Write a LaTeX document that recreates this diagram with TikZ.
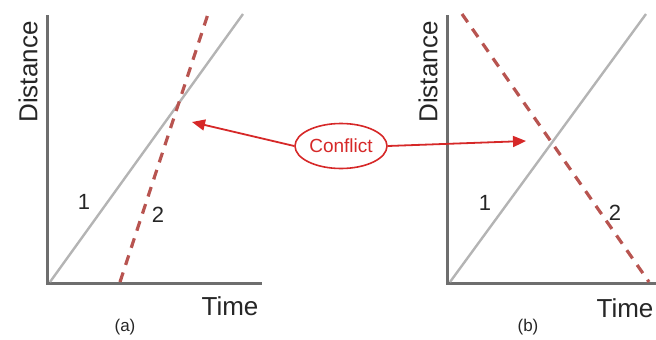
\documentclass[tikz,border=0pt]{standalone}
\usepackage{fontspec}
\setmainfont{Liberation Sans}
\usetikzlibrary{arrows.meta,positioning,shapes.geometric}
\definecolor{axisgray}{HTML}{6E6E6E}
\definecolor{pathgray}{HTML}{B4B4B4}
\definecolor{dashred}{HTML}{B85450}
\definecolor{alertred}{HTML}{D62828}
\tikzset{
  axis/.style={draw=axisgray,line width=3pt},
  trip/.style={draw=pathgray,line width=2.4pt},
  rival/.style={draw=dashred,line width=3.2pt,dash pattern=on 10pt off 8pt},
  axlabel/.style={font=\fontsize{26}{28}\selectfont,text=black!85,inner sep=0pt},
  numlabel/.style={font=\fontsize{22}{24}\selectfont,text=black!85,inner sep=0pt},
  caption/.style={font=\fontsize{17}{19}\selectfont,text=black!85,inner sep=0pt},
  arrow/.style={-{Triangle[length=13pt,width=11pt]},draw=alertred,line width=1.8pt}
}
\begin{document}
\begin{tikzpicture}[x=1pt,y=-1pt]
  \useasboundingbox (0,0) rectangle (656,340);
  % panel (a)
  \coordinate (ao) at (47,283);
  \draw[axis] (47,15) -- (ao) -- (262,283);
  \draw[trip] (50,282) -- (243,14);
  \draw[rival] (120,282) -- (208,14);
  \node[axlabel,rotate=90] (adist) at (28,72) {Distance};
  \node[axlabel] (atime) at (230,306) {Time};
  \node[caption] (acap) at (125,327) {(a)};
  \node[numlabel] (aone) at (84,202) {1};
  \node[numlabel] (atwo) at (158,215) {2};
  \coordinate (ahit) at (192,122);
  % panel (b)
  \coordinate (bo) at (447,283);
  \draw[axis] (447,15) -- (bo) -- (660,283);
  \draw[trip] (450,282) -- (646,14);
  \draw[rival] (462,14) -- (649,282);
  \node[axlabel,rotate=90] (bdist) at (428,72) {Distance};
  \node[axlabel] (btime) at (625,308) {Time};
  \node[caption] (bcap) at (528,327) {(b)};
  \node[numlabel] (bone) at (485,203) {1};
  \node[numlabel] (btwo) at (615,213) {2};
  \coordinate (bhit) at (526,141);
  % conflict
  \node[ellipse,draw=alertred,line width=1.6pt,fill=white,minimum width=92pt,
    minimum height=45pt,inner sep=0pt,text=alertred,
    font=\fontsize{19}{21}\selectfont] (conf) at (341,146) {Conflict};
  \draw[arrow] (conf.west) -- (ahit);
  \draw[arrow] (conf.east) -- (bhit);
\end{tikzpicture}
\end{document}
